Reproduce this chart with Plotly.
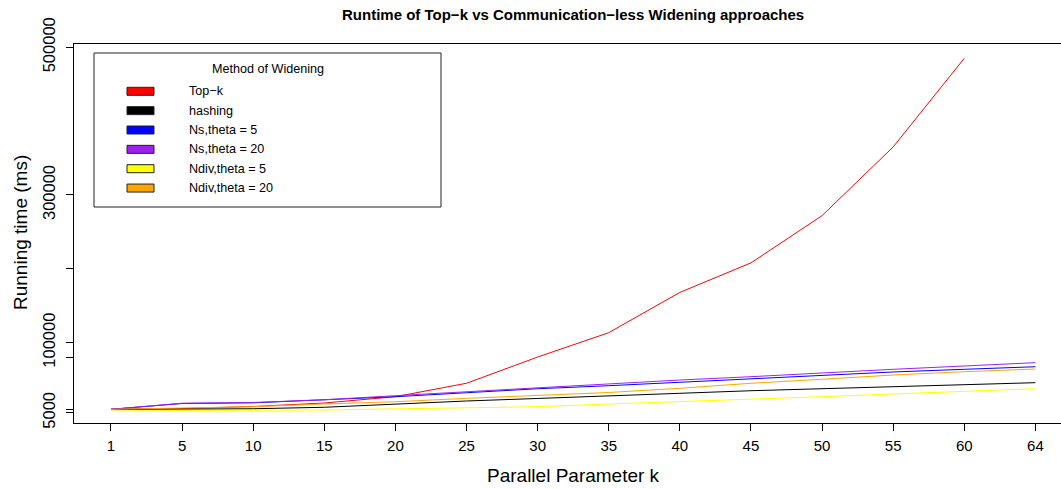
import plotly.graph_objects as go

# ---- data ----
k_values = ["1", "5", "10", "15", "20", "25", "30", "35", "40", "45", "50", "55", "60", "64"]
topk      = [9750, 10800, 13500, 18300, 26800, 45000, 80500, 113500, 168000, 208000, 272000, 365000, 485000, None]
hashing   = [9750, 9900, 10500, 12500, 16900, 21000, 24400, 28400, 31400, 34900, 37600, 40400, 43600, 45800]
ns_5      = [9750, 17600, 18500, 22300, 26800, 32200, 37600, 41700, 46300, 50800, 55800, 60300, 63900, 67400]
ns_20     = [9750, 18000, 19000, 22700, 28200, 33600, 39500, 45000, 49400, 53900, 59300, 63900, 68400, 72900]
ndiv_5    = [7500, 7500, 8400, 8800, 10200, 11100, 13300, 16900, 20000, 23300, 26800, 30500, 34500, 37600]
ndiv_20   = [9750, 11500, 13300, 16900, 20000, 24600, 28400, 32500, 38200, 45000, 50400, 56200, 60700, 64300]

series_names = ["Top\u2212k", "hashing", "Ns,theta = 5", "Ns,theta = 20", "Ndiv,theta = 5", "Ndiv,theta = 20"]
series_data = [topk, hashing, ns_5, ns_20, ndiv_5, ndiv_20]
series_colors = ["#FF0000", "#000000", "#0000FF", "#A020F0", "#FFFF00", "#FFA500"]

y_tickvals = [5000, 10000, 80000, 100000, 200000, 300000, 500000]
y_ticktext = ["5000", "", "", "100000", "", "300000", "500000"]

title_text = "Runtime of Top\u2212k vs Communication\u2212less Widening approaches"
x_title = "Parallel Parameter k"
y_title = "Running time (ms)"
legend_title = "Method of Widening"

# ---- layout geometry ----
W, H = 1061, 489
L, R, T, B = 74, 0, 44, 66
PW, PH = W - L - R, H - T - B
FONT = "Liberation Sans, Arial, Helvetica, sans-serif"

def px(x):
    return (x - L) / PW

def py(y):
    return (H - B - y) / PH

fig = go.Figure()
for name, vals, col in zip(series_names, series_data, series_colors):
    fig.add_trace(go.Scatter(x=k_values, y=vals, mode="lines", name=name,
                             line=dict(color=col, width=1), showlegend=False,
                             connectgaps=False))

fig.update_layout(
    width=W, height=H,
    margin=dict(l=L, r=R, t=T, b=B, pad=0),
    paper_bgcolor="white", plot_bgcolor="white",
    font=dict(family=FONT, color="black"),
    showlegend=False,
)
fig.update_xaxes(type="category", range=[-0.52, 13.36], showgrid=False, zeroline=False,
                 showline=True, linecolor="black", linewidth=1, mirror=True,
                 ticks="outside", ticklen=7, tickcolor="black", tickwidth=1,
                 tickfont=dict(size=15, family=FONT), ticklabelstandoff=2)
fig.update_yaxes(range=[-8800, 504400], showgrid=False, zeroline=False,
                 showline=True, linecolor="black", linewidth=1,
                 tickmode="array", tickvals=y_tickvals, ticktext=y_ticktext,
                 ticks="outside", ticklen=7, tickcolor="black", tickwidth=1,
                 tickangle=-90, tickfont=dict(size=16.5, family=FONT), ticklabelstandoff=4)

ann = []
ann.append(dict(text="<b>" + title_text + "</b>", x=px(573), y=py(15), xref="paper", yref="paper",
                xanchor="center", yanchor="middle", showarrow=False, font=dict(size=15, family=FONT)))
ann.append(dict(text=x_title, x=px(573), y=py(475), xref="paper", yref="paper",
                xanchor="center", yanchor="middle", showarrow=False, font=dict(size=19, family=FONT)))
ann.append(dict(text=y_title, x=px(20), y=py(233), xref="paper", yref="paper", textangle=-90,
                xanchor="center", yanchor="middle", showarrow=False, font=dict(size=19, family=FONT)))

shapes = []
# legend box
shapes.append(dict(type="rect", xref="paper", yref="paper", x0=px(94), x1=px(441), y0=py(207), y1=py(53),
                   line=dict(color="#222222", width=1), fillcolor="white", layer="above"))
ann.append(dict(text=legend_title, x=px(268), y=py(69), xref="paper", yref="paper",
                xanchor="center", yanchor="middle", showarrow=False, font=dict(size=12.6, family=FONT)))
row_y0, row_dy = 91.3, 19.35
for i, (name, col) in enumerate(zip(series_names, series_colors)):
    cy = row_y0 + i * row_dy
    shapes.append(dict(type="rect", xref="paper", yref="paper", x0=px(127), x1=px(154),
                       y0=py(cy + 4), y1=py(cy - 4), line=dict(color="#222222", width=1),
                       fillcolor=col, layer="above"))
    ann.append(dict(text=name, x=px(186.5), y=py(cy), xref="paper", yref="paper",
                    xanchor="left", yanchor="middle", showarrow=False, font=dict(size=12.6, family=FONT)))

fig.update_layout(annotations=ann, shapes=shapes)
fig.write_html("out.html")
